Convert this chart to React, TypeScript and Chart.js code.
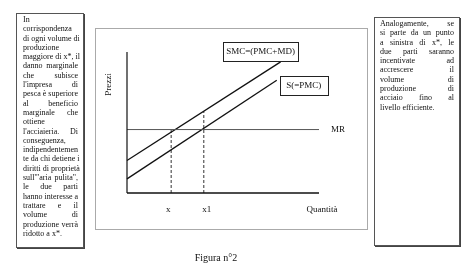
import React, { useEffect, useRef } from "react";
import { Chart, registerables } from "chart.js";

Chart.register(...registerables);

// ---- data ----
const axisMax = 100;
const smcQuantity = [0, 80];
const smcPrice = [23, 93];
const sQuantity = [0, 78];
const sPrice = [10, 80];
const mrQuantity = [0, 100];
const mrPrice = [45, 45];
const xStar = 23; // x
const xOne = 40; // x1
const xStarTop = 45; // meets MR
const xOneTop = 58; // meets SMC
const quantityTickLabels = ["x", "x1"];
const curveLabels = ["SMC=(PMC+MD)", "S(=PMC)", "MR"];
const axisTitles = ["Prezzi", "Quantità"];
const caption = "Figura n°2";

const leftText = [
  "In",
  "corrispondenza",
  "di ogni volume di",
  "produzione",
  "maggiore di x*, il",
  "danno marginale",
  "che subisce",
  "l'impresa di",
  "pesca è superiore",
  "al beneficio",
  "marginale che",
  "ottiene",
  "l'acciaieria. Di",
  "conseguenza,",
  "indipendentemen",
  "te da chi detiene i",
  "diritti di proprietà",
  "sull'\"aria pulita\",",
  "le due parti",
  "hanno interesse a",
  "trattare e il",
  "volume di",
  "produzione verrà",
  "ridotto a x*.",
];

const rightText = [
  "Analogamente, se",
  "si parte da un punto",
  "a sinistra di x*, le",
  "due parti saranno",
  "incentivate ad",
  "accrescere il",
  "volume di",
  "produzione di",
  "acciaio fino al",
  "livello efficiente.",
];

const SERIF = "'Liberation Serif', 'Times New Roman', serif";

const pts = (xs: number[], ys: number[]) => xs.map((x, i) => ({ x, y: ys[i] }));

const labelPlugin = {
  id: "labels",
  afterDatasetsDraw(chart: any) {
    const { ctx, scales } = chart;
    const xs = scales.x;
    const ys = scales.y;
    const px = (v: number) => xs.getPixelForValue(v);
    const py = (v: number) => ys.getPixelForValue(v);
    ctx.save();
    ctx.fillStyle = "#111";
    ctx.font = `9px ${SERIF}`;
    ctx.textBaseline = "middle";

    // Prezzi (rotated)
    ctx.save();
    ctx.translate(px(0) - 18, py(77));
    ctx.rotate(-Math.PI / 2);
    ctx.textAlign = "center";
    ctx.fillText(axisTitles[0], 0, 0);
    ctx.restore();

    // quantity ticks
    const baseY = py(0) + 17;
    ctx.textAlign = "center";
    ctx.fillText(quantityTickLabels[0], px(xStar) - 3, baseY);
    ctx.fillText(quantityTickLabels[1], px(xOne) + 3, baseY);
    ctx.fillText(axisTitles[1], px(axisMax) + 3, baseY);

    // MR
    ctx.textAlign = "left";
    ctx.fillText(curveLabels[2], px(axisMax) + 12, py(mrPrice[1]));

    // boxed labels
    const boxLabel = (text: string, cx: number, cy: number, w: number, h: number) => {
      ctx.fillStyle = "#fff";
      ctx.fillRect(cx - w / 2, cy - h / 2, w, h);
      ctx.strokeStyle = "#222";
      ctx.lineWidth = 1;
      ctx.strokeRect(Math.round(cx - w / 2) + 0.5, Math.round(cy - h / 2) + 0.5, w, h);
      ctx.fillStyle = "#111";
      ctx.textAlign = "center";
      ctx.fillText(text, cx, cy + 0.5);
    };
    const smcEndX = px(smcQuantity[1]);
    const smcEndY = py(smcPrice[1]);
    boxLabel(curveLabels[0], smcEndX - 20, smcEndY - 10.5, 75, 19);
    const sEndX = px(sQuantity[1]);
    const sEndY = py(sPrice[1]);
    boxLabel(curveLabels[1], sEndX + 27, sEndY + 5, 48, 19);
    ctx.restore();
  },
};

export default function App() {
  const ref = useRef<HTMLCanvasElement | null>(null);

  useEffect(() => {
    if (!ref.current) return;
    const line = (data: any[], color: string, width: number, dash: number[] = []) => ({
      data,
      showLine: true,
      borderColor: color,
      borderWidth: width,
      borderDash: dash,
      pointRadius: 0,
      fill: false,
      clip: false,
    });
    const chart = new Chart(ref.current, {
      type: "scatter",
      data: {
        datasets: [
          line(pts([0, 0], [0, axisMax]), "#111", 1.2),
          line(pts([0, axisMax], [0, 0]), "#111", 1.4),
          line(pts(mrQuantity, mrPrice), "#555", 1),
          line(pts(smcQuantity, smcPrice), "#111", 1.3),
          line(pts(sQuantity, sPrice), "#111", 1.3),
          line(pts([xStar, xStar], [0, xStarTop]), "#333", 1, [3, 2]),
          line(pts([xOne, xOne], [0, xOneTop]), "#333", 1, [3, 2]),
        ] as any,
      },
      options: {
        responsive: false,
        animation: false,
        events: [],
        layout: { padding: { left: 127, right: 146, top: 52, bottom: 75 } },
        plugins: { legend: { display: false }, tooltip: { enabled: false } },
        scales: {
          x: { type: "linear", min: 0, max: axisMax, display: false },
          y: { type: "linear", min: 0, max: axisMax, display: false },
        },
      },
      plugins: [labelPlugin],
    });
    return () => chart.destroy();
  }, []);

  const lineStyle = (last: boolean): React.CSSProperties => ({
    textAlign: "justify",
    textAlignLast: last ? "left" : "justify",
    whiteSpace: "nowrap",
    height: 9.3,
    lineHeight: "9.3px",
  });

  return (
    <div
      style={{
        position: "fixed",
        left: 0,
        top: 0,
        width: 465,
        height: 268,
        background: "#fff",
        fontFamily: SERIF,
        color: "#111",
        overflow: "hidden",
      }}
    >
      <canvas ref={ref} width={465} height={268} style={{ position: "absolute", left: 0, top: 0 }} />
      {/* middle frame */}
      <div
        style={{
          position: "absolute",
          left: 95,
          top: 28,
          width: 273,
          height: 202,
          border: "1px solid #aaa",
          boxSizing: "border-box",
          pointerEvents: "none",
        }}
      />
      {/* left text box */}
      <div
        style={{
          position: "absolute",
          left: 16,
          top: 13,
          width: 68,
          height: 235,
          border: "1px solid #555",
          boxShadow: "1px 1px 0 #444",
          boxSizing: "border-box",
          padding: "1px 5px 0 6px",
          fontSize: 8,
        }}
      >
        {leftText.map((t, i) => (
          <div key={i} style={lineStyle(i === leftText.length - 1)}>
            {t}
          </div>
        ))}
      </div>
      {/* right text box */}
      <div
        style={{
          position: "absolute",
          left: 374,
          top: 17,
          width: 86,
          height: 229,
          border: "1px solid #555",
          boxShadow: "1px 1px 0 #444",
          boxSizing: "border-box",
          padding: "1px 5px 0 5px",
          fontSize: 8,
        }}
      >
        {rightText.map((t, i) => (
          <div key={i} style={lineStyle(i === rightText.length - 1)}>
            {t}
          </div>
        ))}
      </div>
      <div
        style={{
          position: "absolute",
          left: 0,
          width: 432,
          top: 252,
          textAlign: "center",
          fontSize: 10,
        }}
      >
        {caption}
      </div>
    </div>
  );
}
